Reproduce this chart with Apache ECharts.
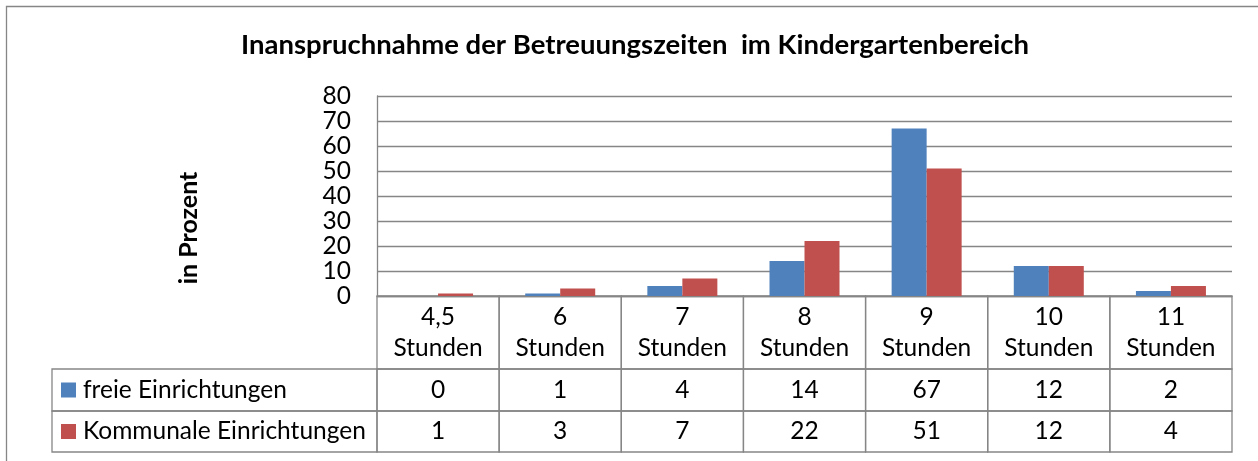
<!DOCTYPE html>
<html>
<head>
<meta charset="utf-8">
<script src="https://cdn.jsdelivr.net/npm/echarts@6/dist/echarts.min.js"></script>
<style>
    html, body { margin: 0; padding: 0; background: #fff; }
    #chart { width: 1258px; height: 461px; }
</style>
</head>
<body>
<div id="chart"></div>
<script>
// Daten
const categories = ['4,5 Stunden', '6 Stunden', '7 Stunden', '8 Stunden', '9 Stunden', '10 Stunden', '11 Stunden']
const freie = [0, 1, 4, 14, 67, 12, 2]
const kommunale = [1, 3, 7, 22, 51, 12, 4]
const seriesNames = ['freie Einrichtungen', 'Kommunale Einrichtungen']
const yTicks = [0, 10, 20, 30, 40, 50, 60, 70, 80]

// Layout / Stil
const colors = ['#4F81BD', '#C0504D']
const lineColor = '#868686'
const fontFamily = 'Lato'
const fontSize = 24.5
const font = fontSize + 'px ' + fontFamily
const rowEdges = [0, 73, 115, 156]   // Tabellenzeilen (px ab Oberkante Tabelle)
const legendWidth = 325              // Breite der Legendenspalte

const myChart = echarts.init(document.getElementById('chart'))

function renderTable(params, api) {
    const i = api.value(0)
    const c = api.coord([i, 0])
    const w = api.size([1, 0])[0]
    const x0 = c[0] - w / 2
    const y = rowEdges.map(r => api.coord([i, r])[1])
    const line = { fill: null, stroke: lineColor, lineWidth: 1.3 }
    const children = []
    for (let r = 0; r < 3; r++) {
        children.push({ type: 'rect', shape: { x: x0, y: y[r], width: w, height: y[r + 1] - y[r] }, style: line })
    }
    const vals = [api.value(1), api.value(2)]
    vals.forEach((v, k) => {
        children.push({
            type: 'text',
            style: { text: String(v), x: c[0], y: (y[k + 1] + y[k + 2]) / 2, align: 'center', verticalAlign: 'middle', font: font, fill: '#000' }
        })
    })
    if (i === 0) {
        seriesNames.forEach((name, k) => {
            const top = y[k + 1], bot = y[k + 2]
            children.push({ type: 'rect', shape: { x: x0 - legendWidth, y: top, width: legendWidth, height: bot - top }, style: line })
            children.push({ type: 'rect', shape: { x: x0 - legendWidth + 9, y: (top + bot) / 2 - 7.5, width: 15, height: 15 }, style: { fill: colors[k] } })
            children.push({
                type: 'text',
                style: { text: name, x: x0 - legendWidth + 31, y: (top + bot) / 2, align: 'left', verticalAlign: 'middle', font: font, fill: '#000' }
            })
        })
    }
    return { type: 'group', children: children }
}

const option = {
    animation: false,
    title: {
        text: 'Inanspruchnahme der Betreuungszeiten  im Kindergartenbereich',
        left: 236,
        top: 26,
        textStyle: { fontFamily: fontFamily, fontSize: 27.5, fontWeight: 'bold', color: '#000' }
    },
    graphic: [
        { type: 'rect', shape: { x: 6.5, y: 6.5, width: 1300, height: 500 }, style: { fill: null, stroke: lineColor, lineWidth: 1.3 } },
        {
            type: 'text', x: 189, y: 228, rotation: Math.PI / 2,
            style: { text: 'in Prozent', align: 'center', verticalAlign: 'middle', font: 'bold 25px ' + fontFamily, fill: '#000' }
        }
    ],
    grid: [
        { left: 377, right: 26, top: 96, height: 200 },
        { left: 377, right: 26, top: 296, height: 156 }
    ],
    xAxis: [
        {
            type: 'category',
            gridIndex: 0,
            data: categories,
            axisTick: { show: false },
            axisLine: { show: true, lineStyle: { color: lineColor, width: 1.3 } },
            axisLabel: {
                interval: 0,
                margin: 6,
                color: '#000',
                fontFamily: fontFamily,
                fontSize: fontSize,
                lineHeight: 31,
                formatter: v => v.replace(' ', '\n')
            }
        },
        { type: 'category', gridIndex: 1, data: categories, show: false }
    ],
    yAxis: [
        {
            type: 'value',
            gridIndex: 0,
            min: 0,
            max: 80,
            interval: 10,
            axisLine: { show: true, lineStyle: { color: lineColor, width: 1.3 } },
            axisTick: { show: false },
            axisLabel: {
                margin: 26,
                color: '#000',
                fontFamily: fontFamily,
                fontSize: fontSize,
                formatter: v => yTicks.includes(v) ? String(v) : ''
            },
            splitLine: { show: true, lineStyle: { color: lineColor, width: 1.3 } }
        },
        { type: 'value', gridIndex: 1, min: rowEdges[0], max: rowEdges[3], inverse: true, show: false }
    ],
    series: [
        {
            name: seriesNames[0],
            type: 'bar',
            xAxisIndex: 0,
            yAxisIndex: 0,
            barWidth: 35,
            barGap: '0%',
            itemStyle: { color: colors[0] },
            data: freie
        },
        {
            name: seriesNames[1],
            type: 'bar',
            xAxisIndex: 0,
            yAxisIndex: 0,
            barWidth: 35,
            barGap: '0%',
            itemStyle: { color: colors[1] },
            data: kommunale
        },
        {
            type: 'custom',
            xAxisIndex: 1,
            yAxisIndex: 1,
            clip: false,
            silent: true,
            renderItem: renderTable,
            data: categories.map((c, i) => [i, freie[i], kommunale[i]])
        }
    ]
}

myChart.setOption(option)
</script>
</body>
</html>
